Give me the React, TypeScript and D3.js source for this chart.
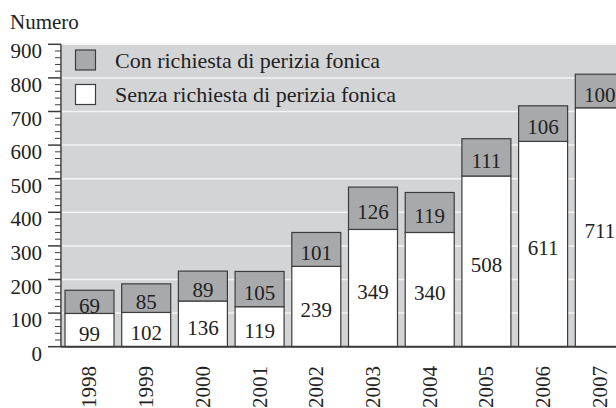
import React from "react";
import * as d3 from "d3";

const years = ["1998", "1999", "2000", "2001", "2002", "2003", "2004", "2005", "2006", "2007"];
const conPerizia = [69, 85, 89, 105, 101, 126, 119, 111, 106, 100];
const senzaPerizia = [99, 102, 136, 119, 239, 349, 340, 508, 611, 711];
const yTicks = [0, 100, 200, 300, 400, 500, 600, 700, 800, 900];
const legendLabels = ["Con richiesta di perizia fonica", "Senza richiesta di perizia fonica"];

const W = 616, H = 408;
const TEXT = "#222";
const BG = "#d3d4d6";
const GREY = "#a8a9ab";
const EDGE = "#3c3c3c";
const txt = { fontFamily: "Liberation Serif" };

export default function App() {
    const y = d3.scaleLinear().domain([0, 900]).range([346.7, 44.3]);
    const x = d3.scaleBand<string>()
        .domain(years)
        .range([61.15, 628.15])
        .paddingInner(0.136)
        .paddingOuter(0.068);
    const bw = x.bandwidth();
    const minor = d3.range(0, 901, 20).filter((v) => v % 100 !== 0);
    const axisX = 61;

    return (
        <svg width={W} height={H} style={{ position: "absolute", left: 0, top: 0 }}>
            <rect x={62} y={y(900)} width={W - 62} height={y(0) - y(900)} fill={BG} />
            {yTicks.filter((t) => t > 0).map((t) => (
                <line key={"g" + t} x1={62} x2={W} y1={y(t)} y2={y(t)} stroke="#f4f4f4" strokeWidth={1.5} />
            ))}

            {/* legend */}
            <rect x={75.5} y={50} width={20} height={20} fill={GREY} stroke={EDGE} strokeWidth={1.2} />
            <rect x={75.5} y={84.5} width={20} height={20} fill="#fff" stroke={EDGE} strokeWidth={1.2} />
            <text x={115} y={68} fontSize={22} fill={TEXT} style={txt}>{legendLabels[0]}</text>
            <text x={115} y={101.7} fontSize={22} fill={TEXT} style={txt}>{legendLabels[1]}</text>

            {/* bars */}
            {years.map((yr, i) => {
                const x0 = x(yr)!;
                const s = senzaPerizia[i], c = conPerizia[i];
                const sTop = y(s), cTop = y(s + c);
                const cx = x0 + bw / 2;
                return (
                    <g key={yr}>
                        <rect x={x0} y={sTop} width={bw} height={y(0) - sTop} fill="#fff" stroke={EDGE} strokeWidth={1.2} />
                        <rect x={x0} y={cTop} width={bw} height={sTop - cTop} fill={GREY} stroke={EDGE} strokeWidth={1.2} />
                        <text x={cx} y={(sTop + y(0)) / 2 + 10.8} textAnchor="middle" fontSize={21} fill={TEXT} style={txt}>{s}</text>
                        <text x={cx} y={(cTop + sTop) / 2 + 10.8} textAnchor="middle" fontSize={21} fill={TEXT} style={txt}>{c}</text>
                        <text transform={`translate(${cx},366) rotate(-90)`} dy="0.33em" textAnchor="end" fontSize={21} fill={TEXT} style={txt}>{yr}</text>
                    </g>
                );
            })}

            {/* axes */}
            <line x1={axisX} x2={W} y1={y(0)} y2={y(0)} stroke={EDGE} strokeWidth={2} />
            <line x1={axisX} x2={axisX} y1={y(900)} y2={y(0)} stroke={EDGE} strokeWidth={1.5} />
            {yTicks.map((t) => (
                <g key={"t" + t}>
                    <line x1={48} x2={axisX} y1={y(t)} y2={y(t)} stroke={EDGE} strokeWidth={1.5} />
                    <text x={42} y={y(t) + 14} textAnchor="end" fontSize={21} fill={TEXT} style={txt}>{t}</text>
                </g>
            ))}
            {minor.map((t) => (
                <line key={"m" + t} x1={55} x2={axisX} y1={y(t)} y2={y(t)} stroke={EDGE} strokeWidth={1} />
            ))}
            <text x={10} y={29} fontSize={21} fill={TEXT} style={txt}>Numero</text>
        </svg>
    );
}
